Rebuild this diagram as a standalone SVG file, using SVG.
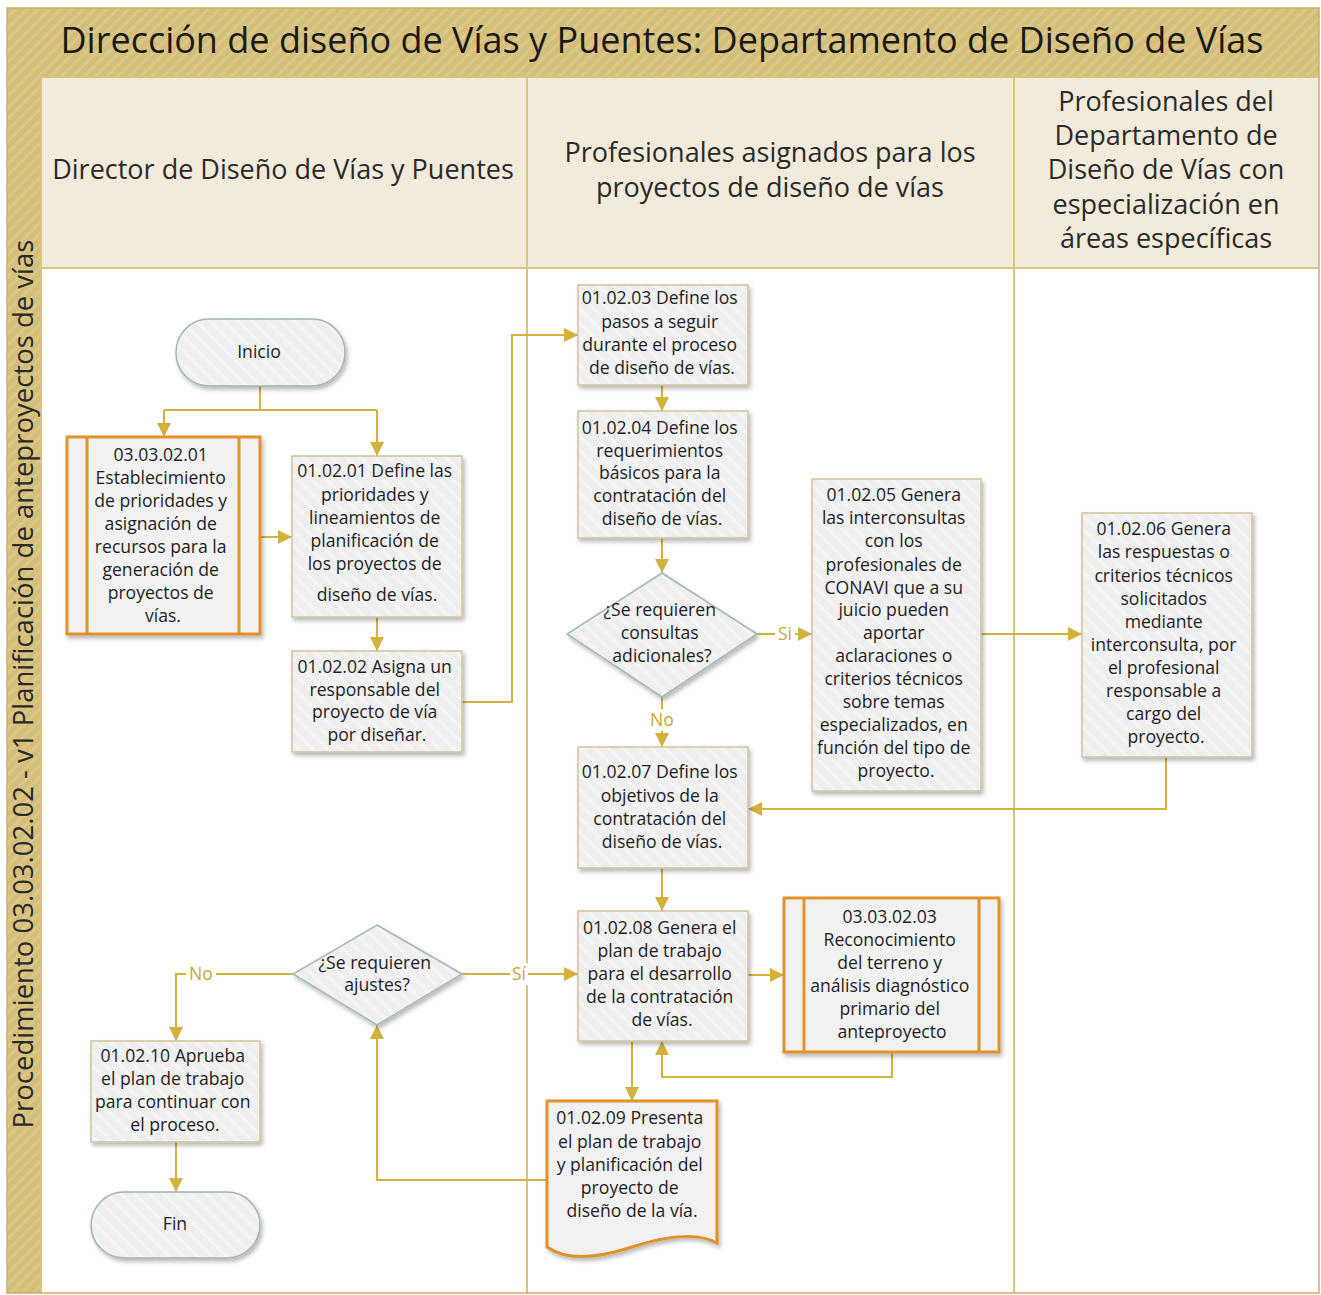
<svg xmlns="http://www.w3.org/2000/svg" width="1321" height="1295" viewBox="0 0 1321 1295">
<defs>
<pattern id="hatchTan" width="8" height="8" patternUnits="userSpaceOnUse" patternTransform="rotate(45)">
<rect width="8" height="8" fill="#d5bf78"/>
<rect width="3" height="8" fill="#dac88a"/>
</pattern>
<pattern id="hatchGray" width="10" height="10" patternUnits="userSpaceOnUse" patternTransform="rotate(-45)">
<rect width="10" height="10" fill="#eeeeee"/>
<rect width="3" height="10" fill="#f4f4f4"/>
</pattern>
<filter id="shadow" x="-10%" y="-10%" width="130%" height="130%">
<feDropShadow dx="2" dy="3" stdDeviation="2" flood-color="#000" flood-opacity="0.28"/>
</filter>
<marker id="arrow" viewBox="0 0 12 12" refX="12" refY="6" markerWidth="14" markerHeight="14" orient="auto" markerUnits="userSpaceOnUse">
<path d="M0,0 L12,6 L0,12 Z" fill="#d4b03c"/>
</marker>
</defs>
<style>
.frame{fill:none;stroke:#c9b064;stroke-width:1.5}
.lane{stroke:#d9c47e;stroke-width:2;fill:none}
.title{font-family:"Open Sans","Noto Sans","DejaVu Sans",sans-serif;font-size:36px;fill:#1a1a1a;text-anchor:middle}
.hdr{font-family:"Open Sans","Noto Sans","DejaVu Sans",sans-serif;font-size:27px;fill:#2a2a2a;text-anchor:middle}
.vt{font-family:"Open Sans","Noto Sans","DejaVu Sans",sans-serif;font-size:27.5px;fill:#2a2a2a;text-anchor:middle}
.t{font-family:"Open Sans","Noto Sans","DejaVu Sans",sans-serif;font-size:17.6px;fill:#1e1e1e;text-anchor:middle}
.task{fill:url(#hatchGray);stroke:#cfc49c;stroke-width:1.5;filter:url(#shadow)}
.term{fill:url(#hatchGray);stroke:#9fb7ae;stroke-width:1.5;filter:url(#shadow)}
.dec{fill:url(#hatchGray);stroke:#a3bab2;stroke-width:1.5;filter:url(#shadow)}
.sub{fill:#f1f1f1;stroke:#e0922c;stroke-width:3;filter:url(#shadow)}
.subl{stroke:#e0922c;stroke-width:3;fill:none}
.doc{fill:#f1f1f1;stroke:#e0922c;stroke-width:3;filter:url(#shadow)}
.c{fill:none;stroke:#d4b03c;stroke-width:2;marker-end:url(#arrow)}
.cn{fill:none;stroke:#d4b03c;stroke-width:2}
.lbl{font-family:"Open Sans","Noto Sans","DejaVu Sans",sans-serif;font-size:17.6px;fill:#c9a535;text-anchor:middle}
.lblbg{fill:#ffffff}
</style>

<rect x="0" y="0" width="1321" height="1295" fill="#ffffff"/>
<rect x="7" y="8" width="1312" height="69" fill="url(#hatchTan)"/>
<rect x="7" y="77" width="34" height="1216" fill="url(#hatchTan)"/>
<rect x="41" y="77" width="1278" height="191" fill="#f2eadb"/>
<rect x="41" y="268" width="1278" height="1025" fill="#ffffff"/>
<line class="lane" x1="41" y1="268" x2="1319" y2="268"/>
<line class="lane" x1="41" y1="77" x2="1319" y2="77"/>
<line class="lane" x1="527" y1="77" x2="527" y2="1293"/>
<line class="lane" x1="1014" y1="77" x2="1014" y2="1293"/>
<line class="lane" x1="41" y1="77" x2="41" y2="1293"/>
<rect class="frame" x="7" y="8" width="1312" height="1285"/>

<text class="title" x="662" y="53">Dirección de diseño de Vías y Puentes: Departamento de Diseño de Vías</text>
<text class="vt" transform="translate(33,684) rotate(-90)">Procedimiento 03.03.02.02 - v1 Planificación de anteproyectos de vías</text>

<g id="lane-headers">
<text class="hdr" x="283" y="179">Director de Diseño de Vías y Puentes</text>
<text class="hdr" x="770" y="162">Profesionales asignados para los</text>
<text class="hdr" x="770" y="197">proyectos de diseño de vías</text>
<text class="hdr" x="1166" y="111">Profesionales del</text>
<text class="hdr" x="1166" y="145">Departamento de</text>
<text class="hdr" x="1166" y="179">Diseño de Vías con</text>
<text class="hdr" x="1166" y="214">especialización en</text>
<text class="hdr" x="1166" y="248">áreas específicas</text>
</g>

<g id="connectors">
<path class="cn" d="M260,386 V410 M164,410 H377"/>
<path class="c" d="M164,410 V437"/>
<path class="c" d="M377,410 V456"/>
<path class="c" d="M260,537 H292"/>
<path class="c" d="M377,617 V651"/>
<path class="c" d="M462,702 H512 V335 H578"/>
<path class="c" d="M662,385 V411"/>
<path class="c" d="M662,538 V573"/>
<path class="c" d="M757,634 H812"/>
<path class="c" d="M662,697 V747"/>
<path class="c" d="M981,634 H1082"/>
<path class="c" d="M1166,757 V809 H748"/>
<path class="c" d="M662,868 V911"/>
<path class="c" d="M748,975 H784"/>
<path class="c" d="M892,1052 V1077 H662 V1041"/>
<path class="c" d="M632,1041 V1101"/>
<path class="c" d="M547,1180 H377 V1025"/>
<path class="c" d="M462,974 H578"/>
<path class="c" d="M293,974 H176 V1041"/>
<path class="c" d="M176,1142 V1192"/>
<rect class="lblbg" x="775" y="623" width="20" height="22"/>
<text class="lbl" x="785" y="640">Si</text>
<rect class="lblbg" x="647" y="709" width="30" height="22"/>
<text class="lbl" x="662" y="726">No</text>
<rect class="lblbg" x="510" y="963" width="18" height="22"/>
<text class="lbl" x="519" y="980">Sí</text>
<rect class="lblbg" x="186" y="963" width="30" height="22"/>
<text class="lbl" x="201" y="980">No</text>
</g>

<g id="inicio">
<rect class="term" x="176" y="319" width="169" height="67" rx="33" ry="33"/>
<text class="t" x="259" y="358">Inicio</text>
</g>

<g id="n030302_01">
<rect class="sub" x="67" y="437" width="193" height="197"/>
<path class="subl" d="M87,437 V634 M239,437 V634"/>
<text class="t">
<tspan x="163" y="461">03.03.02.01</tspan>
<tspan x="163" y="484">Establecimiento</tspan>
<tspan x="163" y="507">de prioridades y</tspan>
<tspan x="163" y="530">asignación de</tspan>
<tspan x="163" y="553">recursos para la</tspan>
<tspan x="163" y="576">generación de</tspan>
<tspan x="163" y="599">proyectos de</tspan>
<tspan x="163" y="622">vías.</tspan>
</text>
</g>

<g id="n010201">
<rect class="task" x="292" y="456" width="170" height="161"/>
<text class="t">
<tspan x="377" y="477">01.02.01 Define las</tspan>
<tspan x="377" y="501">prioridades y</tspan>
<tspan x="377" y="524">lineamientos de</tspan>
<tspan x="377" y="547">planificación de</tspan>
<tspan x="377" y="570">los proyectos de</tspan>
<tspan x="377" y="601">diseño de vías.</tspan>
</text>
</g>

<g id="n010202">
<rect class="task" x="292" y="651" width="170" height="101"/>
<text class="t">
<tspan x="377" y="673">01.02.02 Asigna un</tspan>
<tspan x="377" y="696">responsable del</tspan>
<tspan x="377" y="718">proyecto de vía</tspan>
<tspan x="377" y="741">por diseñar.</tspan>
</text>
</g>

<g id="n010203">
<rect class="task" x="578" y="285" width="170" height="100"/>
<text class="t">
<tspan x="662" y="304">01.02.03 Define los</tspan>
<tspan x="662" y="328">pasos a seguir</tspan>
<tspan x="662" y="351">durante el proceso</tspan>
<tspan x="662" y="374">de diseño de vías.</tspan>
</text>
</g>

<g id="n010204">
<rect class="task" x="578" y="411" width="170" height="127"/>
<text class="t">
<tspan x="662" y="434">01.02.04 Define los</tspan>
<tspan x="662" y="457">requerimientos</tspan>
<tspan x="662" y="479">básicos para la</tspan>
<tspan x="662" y="502">contratación del</tspan>
<tspan x="662" y="525">diseño de vías.</tspan>
</text>
</g>

<g id="dec1">
<polygon class="dec" points="662,573 757,634 662,697 567,634"/>
<text class="t">
<tspan x="662" y="616">¿Se requieren</tspan>
<tspan x="662" y="639">consultas</tspan>
<tspan x="662" y="662">adicionales?</tspan>
</text>
</g>

<g id="n010205">
<rect class="task" x="812" y="479" width="169" height="312"/>
<text class="t">
<tspan x="896" y="501">01.02.05 Genera</tspan>
<tspan x="896" y="524">las interconsultas</tspan>
<tspan x="896" y="547">con los</tspan>
<tspan x="896" y="571">profesionales de</tspan>
<tspan x="896" y="594">CONAVI que a su</tspan>
<tspan x="896" y="616">juicio pueden</tspan>
<tspan x="896" y="639">aportar</tspan>
<tspan x="896" y="662">aclaraciones o</tspan>
<tspan x="896" y="685">criterios técnicos</tspan>
<tspan x="896" y="708">sobre temas</tspan>
<tspan x="896" y="731">especializados, en</tspan>
<tspan x="896" y="754">función del tipo de</tspan>
<tspan x="896" y="777">proyecto.</tspan>
</text>
</g>

<g id="n010206">
<rect class="task" x="1082" y="513" width="170" height="244"/>
<text class="t">
<tspan x="1166" y="535">01.02.06 Genera</tspan>
<tspan x="1166" y="558">las respuestas o</tspan>
<tspan x="1166" y="582">criterios técnicos</tspan>
<tspan x="1166" y="605">solicitados</tspan>
<tspan x="1166" y="628">mediante</tspan>
<tspan x="1166" y="651">interconsulta, por</tspan>
<tspan x="1166" y="674">el profesional</tspan>
<tspan x="1166" y="697">responsable a</tspan>
<tspan x="1166" y="720">cargo del</tspan>
<tspan x="1166" y="743">proyecto.</tspan>
</text>
</g>

<g id="n010207">
<rect class="task" x="578" y="747" width="170" height="121"/>
<text class="t">
<tspan x="662" y="778">01.02.07 Define los</tspan>
<tspan x="662" y="802">objetivos de la</tspan>
<tspan x="662" y="825">contratación del</tspan>
<tspan x="662" y="848">diseño de vías.</tspan>
</text>
</g>

<g id="n010208">
<rect class="task" x="578" y="911" width="170" height="130"/>
<text class="t">
<tspan x="662" y="934">01.02.08 Genera el</tspan>
<tspan x="662" y="957">plan de trabajo</tspan>
<tspan x="662" y="980">para el desarrollo</tspan>
<tspan x="662" y="1003">de la contratación</tspan>
<tspan x="662" y="1026">de vías.</tspan>
</text>
</g>

<g id="n030302_03">
<rect class="sub" x="784" y="898" width="215" height="154"/>
<path class="subl" d="M804,898 V1052 M979,898 V1052"/>
<text class="t">
<tspan x="892" y="923">03.03.02.03</tspan>
<tspan x="892" y="946">Reconocimiento</tspan>
<tspan x="892" y="969">del terreno y</tspan>
<tspan x="892" y="992">análisis diagnóstico</tspan>
<tspan x="892" y="1015">primario del</tspan>
<tspan x="892" y="1038">anteproyecto</tspan>
</text>
</g>

<g id="n010209">
<path class="doc" d="M547,1101 H717 V1243 Q690,1228 632,1247 T547,1247 Z"/>
<text class="t">
<tspan x="632" y="1124">01.02.09 Presenta</tspan>
<tspan x="632" y="1148">el plan de trabajo</tspan>
<tspan x="632" y="1171">y planificación del</tspan>
<tspan x="632" y="1194">proyecto de</tspan>
<tspan x="632" y="1217">diseño de la vía.</tspan>
</text>
</g>

<g id="dec2">
<polygon class="dec" points="377,925 462,974 377,1025 293,974"/>
<text class="t">
<tspan x="377" y="969">¿Se requieren</tspan>
<tspan x="377" y="991">ajustes?</tspan>
</text>
</g>

<g id="n010210">
<rect class="task" x="91" y="1041" width="169" height="101"/>
<text class="t">
<tspan x="175" y="1062">01.02.10 Aprueba</tspan>
<tspan x="175" y="1085">el plan de trabajo</tspan>
<tspan x="175" y="1108">para continuar con</tspan>
<tspan x="175" y="1131">el proceso.</tspan>
</text>
</g>

<g id="fin">
<rect class="term" x="91" y="1192" width="169" height="66" rx="33" ry="33"/>
<text class="t" x="175" y="1230">Fin</text>
</g>
</svg>
